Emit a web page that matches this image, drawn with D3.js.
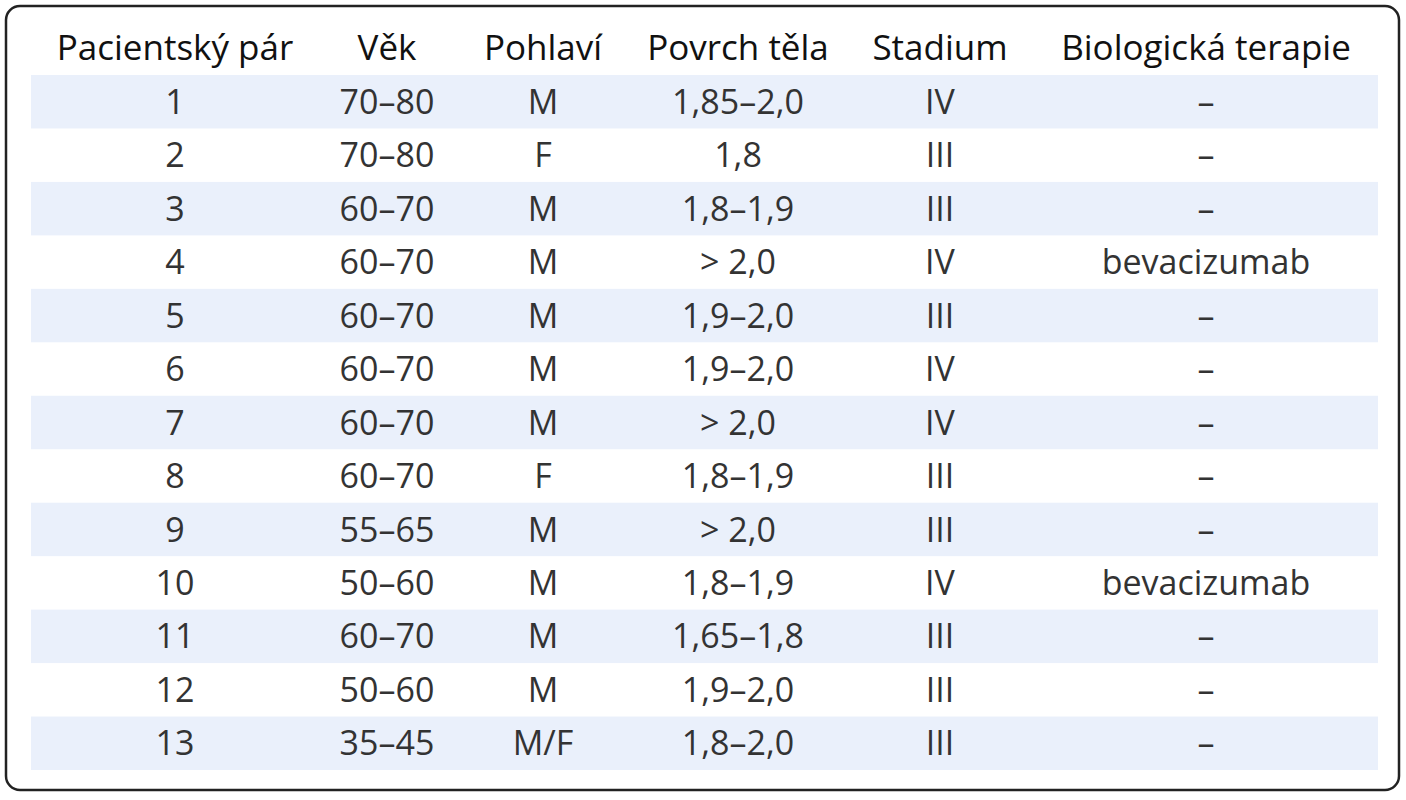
<!DOCTYPE html><html><head><meta charset="utf-8"><script src="https://d3js.org/d3.v7.min.js"></script>
<style>body{margin:0;background:#fff}</style></head><body><svg id="c" width="1406" height="800"></svg>
<script>
const headers=["Pacientský pár","Věk","Pohlaví","Povrch těla","Stadium","Biologická terapie"];
const pairs=["1","2","3","4","5","6","7","8","9","10","11","12","13"];
const ages=["70–80","70–80","60–70","60–70","60–70","60–70","60–70","60–70","55–65","50–60","60–70","50–60","35–45"];
const sexes=["M","F","M","M","M","M","M","F","M","M","M","M","M/F"];
const bsa=["1,85–2,0","1,8","1,8–1,9","> 2,0","1,9–2,0","1,9–2,0","> 2,0","1,8–1,9","> 2,0","1,8–1,9","1,65–1,8","1,9–2,0","1,8–2,0"];
const stages=["IV","III","III","IV","III","IV","IV","III","III","IV","III","III","III"];
const bio=["–","–","–","bevacizumab","–","–","–","–","–","bevacizumab","–","–","–"];
const cols=[pairs,ages,sexes,bsa,stages,bio];
const centers=[175,387,543,738,940,1206];
const svg=d3.select("#c");
svg.append("rect").attr("x",6).attr("y",6).attr("width",1393).attr("height",784).attr("rx",14).attr("fill","none").attr("stroke","#222").attr("stroke-width",2.5);
const y=d3.scaleBand().domain(pairs).range([75,770]);
svg.selectAll("rect.band").data(pairs.filter((d,i)=>i%2==0)).join("rect").attr("class","band")
 .attr("x",31).attr("width",1347).attr("y",d=>y(d)).attr("height",y.bandwidth()).attr("fill","#eaf0fb");
const f="'Open Sans','Noto Sans',sans-serif";
svg.selectAll("text.h").data(headers).join("text").attr("class","h").attr("x",(d,i)=>centers[i]).attr("y",51)
 .attr("text-anchor","middle").attr("dominant-baseline","middle").attr("font-family",f).attr("font-size",35).attr("fill","#111").text(d=>d);
cols.forEach((c,ci)=>{
 svg.selectAll("text.c"+ci).data(c).join("text").attr("class","c"+ci).attr("x",centers[ci]).attr("y",(d,i)=>y(pairs[i])+y.bandwidth()/2+3)
  .attr("text-anchor","middle").attr("dominant-baseline","middle").attr("font-family",f).attr("font-size",34).attr("fill","#333").text(d=>d);
});
</script></body></html>
